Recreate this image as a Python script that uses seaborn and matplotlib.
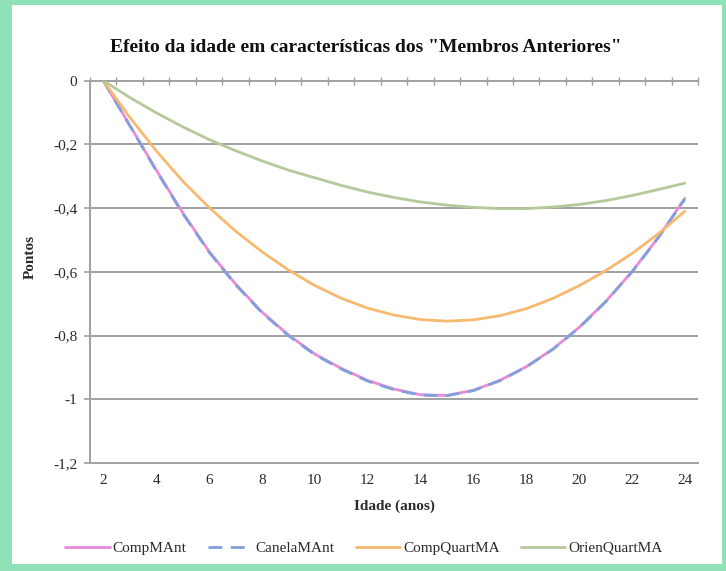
import matplotlib
matplotlib.use("Agg")
import matplotlib.pyplot as plt
import seaborn as sns
import pandas as pd
from matplotlib.patches import Rectangle
from matplotlib.ticker import FixedLocator

# ---- data ----
idade = list(range(2, 25))
comp_mant = [0.000, -0.140, -0.280, -0.414, -0.536, -0.638, -0.726, -0.798, -0.858, -0.903,
             -0.941, -0.968, -0.986, -0.988, -0.972, -0.941, -0.898, -0.843, -0.775, -0.694,
             -0.600, -0.492, -0.370]
canela_mant = [0.000, -0.141, -0.282, -0.416, -0.538, -0.640, -0.728, -0.800, -0.860, -0.905,
               -0.943, -0.970, -0.987, -0.989, -0.973, -0.942, -0.899, -0.844, -0.776, -0.695,
               -0.601, -0.493, -0.372]
comp_quart = [0.000, -0.115, -0.220, -0.315, -0.398, -0.472, -0.537, -0.594, -0.643, -0.683,
              -0.714, -0.736, -0.750, -0.755, -0.751, -0.738, -0.716, -0.684, -0.644, -0.597,
              -0.543, -0.481, -0.410]
orien_quart = [0.000, -0.053, -0.101, -0.145, -0.185, -0.220, -0.252, -0.281, -0.305, -0.329,
               -0.350, -0.367, -0.381, -0.391, -0.398, -0.402, -0.402, -0.397, -0.389, -0.377,
               -0.361, -0.342, -0.322]
series_names = ["CompMAnt", "CanelaMAnt", "CompQuartMA", "OrienQuartMA"]
series_values = [comp_mant, canela_mant, comp_quart, orien_quart]
x_tick_values = [2, 4, 6, 8, 10, 12, 14, 16, 18, 20, 22, 24]
y_tick_values = [0, -0.2, -0.4, -0.6, -0.8, -1.0, -1.2]
y_tick_labels = ["0", "-0,2", "-0,4", "-0,6", "-0,8", "-1", "-1,2"]
title_text = 'Efeito da idade em características dos "Membros Anteriores"'
x_label = "Idade (anos)"
y_label = "Pontos"

rows = []
for name, vals in zip(series_names, series_values):
    for a, v in zip(idade, vals):
        rows.append({"Idade": a, "Pontos": v, "Serie": name})
df = pd.DataFrame(rows)

# ---- style ----
sns.set_theme(style="white")
plt.rcParams["font.family"] = ["Liberation Serif", "DejaVu Serif"]

colors = {"CompMAnt": "#e88ad8", "CanelaMAnt": "#7fa0d8",
          "CompQuartMA": "#f6b96f", "OrienQuartMA": "#b6c99a"}
styles = {"CompMAnt": "-", "CanelaMAnt": (0, (5, 3)),
          "CompQuartMA": "-", "OrienQuartMA": "-"}
grid_c = "#a0a0a0"
text_c = "#2a2a2a"

W, H = 726, 571
fig = plt.figure(figsize=(W / 100, H / 100), dpi=100)
fig.patch.set_facecolor("#90e0b8")
fig.patches.append(Rectangle((12 / W, 7 / H), (722 - 12) / W, (566 - 7) / H,
                             transform=fig.transFigure, facecolor="white",
                             edgecolor="none", zorder=-1))

L, R, T, B = 90, 698, 80.5, 463
ax = fig.add_axes([L / W, 1 - B / H, (R - L) / W, (B - T) / H])
ax.set_facecolor("none")

for name in series_names:
    sub = df[df["Serie"] == name]
    sns.lineplot(data=sub, x="Idade", y="Pontos", ax=ax, color=colors[name],
                 linestyle=styles[name], linewidth=2.0, label=name, legend=False,
                 zorder=3)

ax.set_xlim(1.5, 24.5)
ax.set_ylim(-1.2, 0)

# gridlines
for yv in y_tick_values[1:-1]:
    ax.axhline(yv, color=grid_c, lw=1.4, zorder=1)

ax.spines["right"].set_visible(False)
for side in ["left", "top", "bottom"]:
    ax.spines[side].set_color(grid_c)
    ax.spines[side].set_linewidth(1.4)

ax.yaxis.set_major_locator(FixedLocator(y_tick_values))
ax.set_yticklabels(y_tick_labels)
ax.tick_params(axis="y", which="major", left=True, length=4, width=1.2,
               color=grid_c, pad=5, labelsize=11, labelcolor=text_c)

ax.xaxis.set_major_locator(FixedLocator(x_tick_values))
ax.set_xticklabels([str(v) for v in x_tick_values])
ax.xaxis.set_minor_locator(FixedLocator([v + 0.5 for v in range(1, 25)]))
ax.tick_params(axis="x", which="major", length=0, pad=8, labelsize=11,
               labelcolor=text_c, top=False, bottom=True)
ax.tick_params(axis="x", which="minor", top=True, bottom=False, direction="inout",
               length=6, width=1.0, color=grid_c)

ax.set_xlabel(x_label, fontsize=11, fontweight="bold", color=text_c)
ax.set_ylabel(y_label, fontsize=11, fontweight="bold", color=text_c)
ax.xaxis.set_label_coords(0.5, -(500 - B) / (B - T))
ax.yaxis.set_label_coords((37 - L) / (R - L), (B - 257) / (B - T))

fig.text(366 / W, 1 - 47 / H, title_text, ha="center", va="center",
         fontsize=14, fontweight="bold", color="#111111")

handles, labels = ax.get_legend_handles_labels()
fig.legend(handles, labels, loc="center", bbox_to_anchor=(364 / W, 1 - 548 / H),
           ncol=4, frameon=False, fontsize=11, handlelength=2.9,
           handletextpad=0.2, columnspacing=1.4, labelcolor=text_c)

fig.savefig("out.png", dpi=100, facecolor=fig.get_facecolor())
